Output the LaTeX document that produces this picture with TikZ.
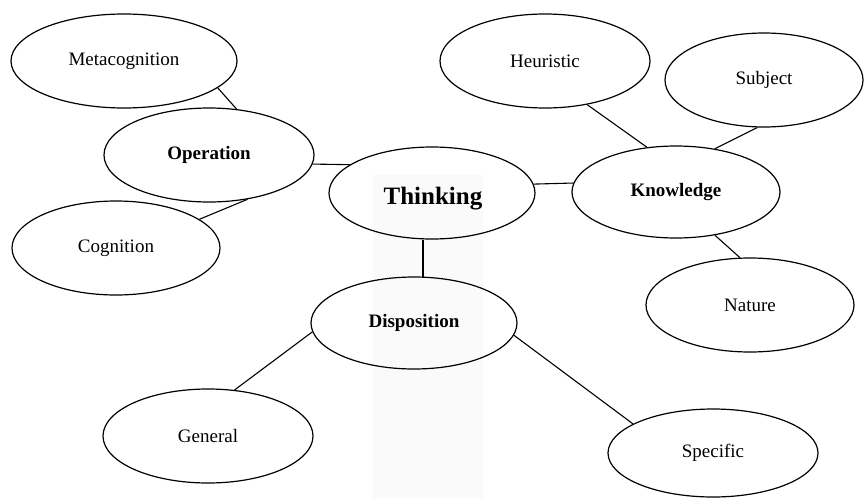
\documentclass[tikz,border=0pt]{standalone}
\usepackage{fontspec}
\setmainfont{Liberation Serif}
\usetikzlibrary{shapes.geometric}
\begin{document}
\begin{tikzpicture}[x=1pt,y=-1pt,
  bubble/.style={draw, ellipse, inner sep=0pt, line width=1.2pt,
    font=\fontsize{19}{22}\selectfont},
  hub/.style={bubble, font=\fontsize{19}{22}\selectfont\bfseries},
  core/.style={bubble, font=\fontsize{25}{30}\selectfont\bfseries},
  link/.style={line width=1.1pt}]
\useasboundingbox (0,0) rectangle (864,498);
% faint band behind the central column
\fill[black!2] (373,175) rectangle (483,498);

% ellipses
\node[core,  minimum width=206pt, minimum height=92pt] (think) at (432,193) {};
\node[font=\fontsize{25}{30}\selectfont\bfseries, inner sep=0pt] (thinklbl) at (433,199) {Thinking};
\node[hub,   minimum width=210pt, minimum height=94pt] (oper)  at (209,155) {Operation};
\node[hub,   minimum width=208pt, minimum height=92pt] (know)  at (676,192) {Knowledge};
\node[hub,   minimum width=206pt, minimum height=92pt] (disp)  at (414,323) {Disposition};
\node[bubble,minimum width=226pt, minimum height=94pt] (meta)  at (124,61)  {Metacognition};
\node[bubble,minimum width=208pt, minimum height=94pt] (cogn)  at (116,248) {Cognition};
\node[bubble,minimum width=210pt, minimum height=94pt] (heur)  at (545,61)  {Heuristic};
\node[bubble,minimum width=198pt, minimum height=94pt] (subj)  at (764,80)  {Subject};
\node[bubble,minimum width=208pt, minimum height=94pt] (natu)  at (750,305) {Nature};
\node[bubble,minimum width=210pt, minimum height=94pt] (gene)  at (208,436) {General};
\node[bubble,minimum width=210pt, minimum height=88pt] (spec)  at (713,453) {Specific};

% connectors
\draw[link] (meta.-16) -- (oper.59);
\draw[link] (oper.-5) -- (think.161);
\draw[link] (oper.-49) -- (cogn.19);
\draw[link] (think.5.6) -- (know.175);
\draw[link] (heur.-46) -- (know.123);
\draw[link] (subj.-98) -- (know.48);
\draw[link] (know.-48) -- (natu.102);
\draw[link] (disp.79) -- (disp.79 |- think.south);
\draw[link] (disp.185.5) -- (gene.60);
\draw[link] (disp.-7) -- (spec.160);
\end{tikzpicture}
\end{document}
